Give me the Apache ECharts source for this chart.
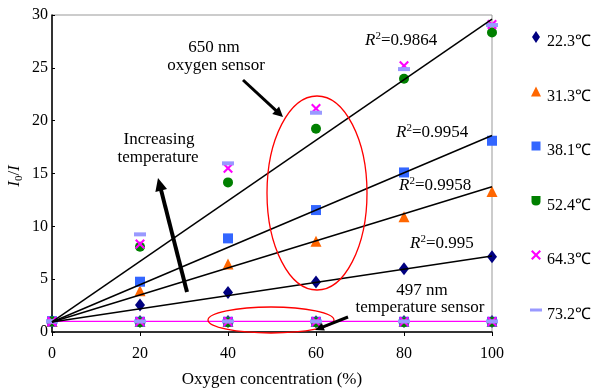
<!DOCTYPE html>
<html><head><meta charset="utf-8">
<script src="https://cdn.jsdelivr.net/npm/echarts@6/dist/echarts.min.js"></script>
<style>html,body{margin:0;padding:0;background:#fff}#c{width:592px;height:389px}</style>
</head><body><div id="c"></div>
<script>
// ---- data ----
const oxygen = [0, 20, 40, 60, 80, 100];
const xTicks = [0, 20, 40, 60, 80, 100];
const yTicks = [0, 5, 10, 15, 20, 25, 30];
const tempNames = ['22.3℃', '31.3℃', '38.1℃', '52.4℃', '64.3℃', '73.2℃'];
// 650 nm oxygen sensor (I0/I)
const o650_223 = [1.0, 2.55, 3.75, 4.73, 5.99, 7.13];
const o650_313 = [1.0, 3.91, 6.43, 8.60, 10.9, 13.3];
const o650_381 = [1.0, 4.76, 8.86, 11.54, 15.1, 18.1];
const o650_524 = [1.0, 8.07, 14.16, 19.23, 23.96, 28.35];
const o650_643 = [1.0, 8.33, 15.49, 21.16, 25.2, 29.1];
const o650_732 = [1.0, 9.24, 15.96, 20.75, 24.88, 29.05];
// 497 nm temperature sensor (I0/I)
const t497_223 = [1.0, 1.0, 1.0, 0.98, 1.0, 1.0];
const t497_313 = [1.0, 1.0, 1.0, 1.0, 1.0, 1.0];
const t497_381 = [1.0, 0.97, 0.97, 0.97, 0.97, 0.97];
const t497_524 = [1.0, 0.93, 0.93, 0.93, 0.93, 0.95];
const t497_643 = [1.0, 1.0, 1.0, 1.0, 1.0, 1.0];
const t497_732 = [1.0, 1.0, 1.0, 1.0, 1.0, 1.0];
// linear trend lines (endpoints at x = 0 and 100)
const fitX = [0, 100];
const fit9864 = [0.95, 29.6];
const fit9954 = [0.95, 18.6];
const fit9958 = [0.95, 13.75];
const fit995 = [0.95, 7.2];
const fit497 = [1.0, 1.0];

const o650 = [o650_223, o650_313, o650_381, o650_524, o650_643, o650_732];
const t497 = [t497_223, t497_313, t497_381, t497_524, t497_643, t497_732];

const colors = ['#000080', '#FF6600', '#3366FF', '#008000', '#FF00FF', '#9999FF'];
const xPath = 'path://M0,1.5L1.5,0L5,3.5L8.5,0L10,1.5L6.5,5L10,8.5L8.5,10L5,6.5L1.5,10L0,8.5L3.5,5Z';
const symbols = ['diamond', 'triangle', 'rect', 'circle', xPath, 'rect'];
const sizes = [[10, 13], 11, 10, 10, 10, [12, 4]];
// legend icons: 12x22 box, visible shape in the upper 12px
const legendIcons = [
  'path://M0,0M12,22M6,0L10,6L6,12L2,6Z',
  'path://M0,0M12,22M6,1L11,11L1,11Z',
  'path://M0,0M12,22M1.5,1.5H10.5V10.5H1.5Z',
  'path://M0,0M12,22M1.5,1.5H10.5V7Q10.5,11 6,11Q1.5,11 1.5,7Z',
  'path://M0,0M12,22M1,2.5L2.5,1L6,4.5L9.5,1L11,2.5L7.5,6L11,9.5L9.5,11L6,7.5L2.5,11L1,9.5L4.5,6Z',
  'path://M0,0M12,22M0,5H12V8H0Z'
];

const FONT = 'Liberation Serif, Times New Roman, serif';

const series = [];
tempNames.forEach((n, k) => {
  const pts = oxygen.map((x, i) => [x, o650[k][i]]).concat(oxygen.map((x, i) => [x, t497[k][i]]));
  series.push({
    name: n, type: 'scatter', data: pts, symbol: symbols[k], symbolSize: sizes[k],
    itemStyle: { color: colors[k], opacity: 1 }, z: 3 + k, silent: true
  });
});
function fitSeries(vals, color) {
  return {
    type: 'line', data: fitX.map((x, i) => [x, vals[i]]), symbol: 'none', silent: true,
    lineStyle: { color: color, width: 1.5 }, z: 20, animation: false
  };
}
series.push(fitSeries(fit9864, '#000'));
series.push(fitSeries(fit9954, '#000'));
series.push(fitSeries(fit9958, '#000'));
series.push(fitSeries(fit995, '#000'));
const fl = fitSeries(fit497, '#FF00FF'); fl.lineStyle.width = 1.2; fl.z = 2;
series.push(fl);

// ---- annotation helpers ----
function arrow(x1, y1, x2, y2, w, hl, hw) {
  const dx = x2 - x1, dy = y2 - y1, L = Math.sqrt(dx * dx + dy * dy);
  const ux = dx / L, uy = dy / L, px = -uy, py = ux;
  const bx = x2 - ux * hl, by = y2 - uy * hl;
  return [
    { type: 'line', shape: { x1: x1, y1: y1, x2: bx + ux, y2: by + uy }, style: { stroke: '#000', lineWidth: w }, z: 50 },
    { type: 'polygon', shape: { points: [[x2, y2], [bx + px * hw, by + py * hw], [bx - px * hw, by - py * hw]] }, style: { fill: '#000' }, z: 50 }
  ];
}
const richR = {
  it: { fontFamily: FONT, fontSize: 17, fontStyle: 'italic', lineHeight: 19, verticalAlign: 'bottom' },
  sup: { fontFamily: FONT, fontSize: 11, lineHeight: 19, verticalAlign: 'top' },
  t: { fontFamily: FONT, fontSize: 17, lineHeight: 19, verticalAlign: 'bottom' }
};
function rText(label, x, y) {
  return { type: 'text', x: x, y: y, z: 50, style: {
    text: '{it|R}{sup|2}{t|=' + label + '}', rich: richR, fill: '#000',
    align: 'left', verticalAlign: 'middle' } };
}
function pText(txt, x, y) {
  return { type: 'text', x: x, y: y, z: 50, style: {
    text: txt, fontFamily: FONT, fontSize: 17, fill: '#000', align: 'center', verticalAlign: 'middle' } };
}
const yName = { type: 'text', x: 15, y: 176, rotation: Math.PI / 2, z: 50, style: {
  text: '{it|I}{sub|0}{t|/}{it|I}', fill: '#000', align: 'center', verticalAlign: 'middle',
  rich: {
    it: { fontFamily: FONT, fontSize: 17, fontStyle: 'italic', lineHeight: 20, verticalAlign: 'middle' },
    sub: { fontFamily: FONT, fontSize: 11, lineHeight: 20, verticalAlign: 'bottom', padding: [8, 0, 0, 0] },
    t: { fontFamily: FONT, fontSize: 17, lineHeight: 20, verticalAlign: 'middle' }
  } } };

const graphics = [
  pText('650 nm', 214, 48), pText('oxygen sensor', 216, 66),
  pText('Increasing', 159, 140), pText('temperature', 158, 158),
  pText('497 nm', 422, 291), pText('temperature sensor', 420, 308),
  rText('0.9864', 365, 40), rText('0.9954', 396, 132), rText('0.9958', 399, 185), rText('0.995', 410, 243),
  yName,
  { type: 'ellipse', shape: { cx: 317, cy: 193, rx: 50, ry: 97 }, style: { fill: 'none', stroke: '#FF0000', lineWidth: 1.3 }, z: 40 },
  { type: 'ellipse', shape: { cx: 271, cy: 320, rx: 63, ry: 13 }, style: { fill: 'none', stroke: '#FF0000', lineWidth: 1.3 }, z: 40 }
].concat(arrow(243, 80, 283, 117, 3, 10, 5))
 .concat(arrow(187, 292, 158, 178, 4, 13, 6))
 .concat(arrow(348, 317, 315, 330, 3, 9, 4));

const chart = echarts.init(document.getElementById('c'), null, { renderer: 'canvas' });
chart.setOption({
  animation: false,
  backgroundColor: '#fff',
  grid: { left: 52, right: 100, top: 15, bottom: 57, outerBoundsMode: 'none', containLabel: false,
    show: true, borderColor: '#999', borderWidth: 1, backgroundColor: 'transparent' },
  legend: {
    orient: 'vertical', left: 525, top: 26, itemWidth: 12, itemHeight: 22, itemGap: 32.5, selectedMode: false,
    textStyle: { fontFamily: FONT, fontSize: 16, color: '#000' },
    data: tempNames.map((n, k) => ({ name: n, icon: legendIcons[k] }))
  },
  xAxis: {
    type: 'value', min: xTicks[0], max: xTicks[xTicks.length - 1], interval: 20,
    name: 'Oxygen concentration (%)', nameLocation: 'middle', nameGap: 39,
    nameTextStyle: { fontFamily: FONT, fontSize: 17, color: '#000' },
    axisLine: { lineStyle: { color: '#000', width: 1.5 } },
    axisTick: { inside: false, length: 4, lineStyle: { color: '#000' } },
    axisLabel: { fontFamily: FONT, fontSize: 16, color: '#000', margin: 14 },
    splitLine: { show: false }
  },
  yAxis: {
    type: 'value', min: yTicks[0], max: yTicks[yTicks.length - 1], interval: 5,
    axisLine: { lineStyle: { color: '#000', width: 1.5 } },
    axisTick: { inside: true, length: 3, lineStyle: { color: '#000' } },
    axisLabel: { fontFamily: FONT, fontSize: 16, color: '#000', margin: 4 },
    splitLine: { show: false }
  },
  series: series,
  graphic: graphics
});
</script></body></html>
